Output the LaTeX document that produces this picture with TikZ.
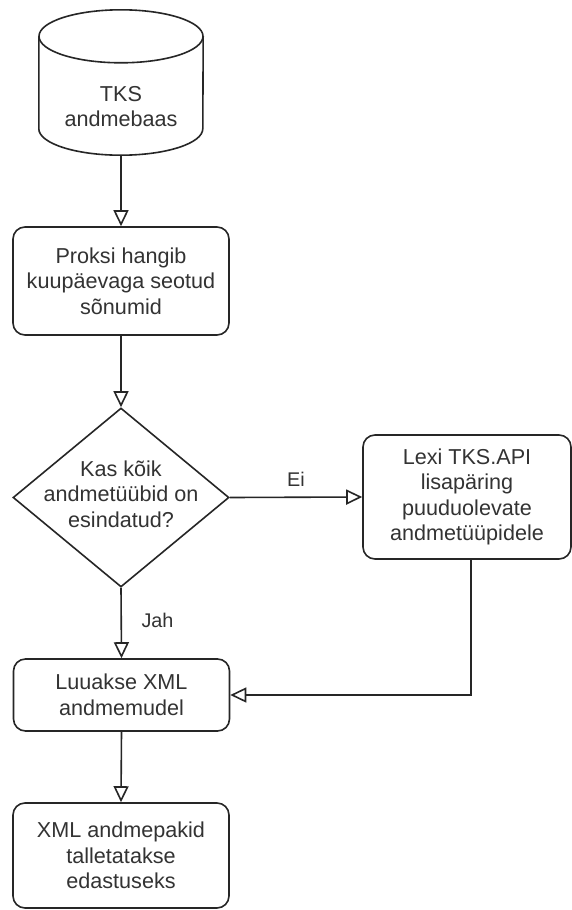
\documentclass[tikz,border=0pt]{standalone}
\usepackage{fontspec}
\setmainfont{Liberation Sans}
\usetikzlibrary{arrows.meta,shapes.geometric,calc}

\newcommand\boxfont{\fontsize{21.6}{25.5}\selectfont}
\newcommand\edgefont{\fontsize{19.8}{23}\selectfont}

\tikzset{
  outline/.style={draw=black!85, line width=1.6pt},
  procbox/.style={outline, rounded corners=12pt, minimum width=216pt,
    inner sep=0pt, align=center, font=\boxfont, text=black!80},
  decision/.style={outline, diamond, inner sep=0pt,
    minimum width=216pt, minimum height=179pt},
  boxtext/.style={align=center, font=\boxfont, text=black!80, inner sep=0pt},
  edgelabel/.style={font=\edgefont, text=black!80, inner sep=0pt, anchor=base},
  flow/.style={outline, -{Triangle[open, length=16pt, width=15pt, line width=1.6pt]}},
}

\begin{document}
\begin{tikzpicture}[x=1pt, y=-1pt]
  % canvas
  \fill[white] (0,0) rectangle (572,910);
  \useasboundingbox (0,0) rectangle (572,910);

  % database cylinder
  \node[minimum width=164pt, minimum height=145pt, inner sep=0pt] (db) at (121,82.5) {};
  \draw[outline] ($(db.north)+(0,26.5)$) ellipse [x radius=82pt, y radius=26.5pt];
  \draw[outline] ($(db.north west)+(0,26.5)$) -- ($(db.south west)+(0,-26.5)$)
    arc[start angle=180, end angle=360, x radius=82pt, y radius=26.5pt]
    -- ($(db.north east)+(0,26.5)$);
  \node[boxtext] (dbtext) at (121,106.5) {TKS\\andmebaas};

  % process steps
  \node[procbox, minimum height=108pt] (fetch) at (121,281)
    {Proksi hangib\\kuupäevaga seotud\\sõnumid};
  \node[decision] (check) at (121,497.5) {};
  \node[boxtext] (checktext) at (121,494) {Kas kõik\\andmetüübid on\\esindatud?};
  \node[procbox, minimum width=208pt, minimum height=124pt] (query) at (467,497)
    {Lexi TKS.API\\lisapäring\\puuduolevate\\andmetüüpidele};
  \node[procbox, minimum height=72pt] (model) at (121.5,695)
    {Luuakse XML\\andmemudel};
  \node[procbox, minimum height=105pt] (store) at (121,855.5)
    {XML andmepakid\\talletatakse\\edastuseks};

  % connectors
  \draw[flow] (db.south) -- (fetch.north);
  \draw[flow] (fetch.south) -- (check.north);
  \draw[flow] (check.east) -- (query.west);
  \draw[flow] (check.south) -- (model.north);
  \draw[flow] ([xshift=4pt]query.south) |- (model.east);
  \draw[flow] (model.south) -- (store.north);

  % branch labels
  \node[edgelabel] (no) at (296,486) {Ei};
  \node[edgelabel] (yes) at (157.5,627) {Jah};
\end{tikzpicture}
\end{document}
